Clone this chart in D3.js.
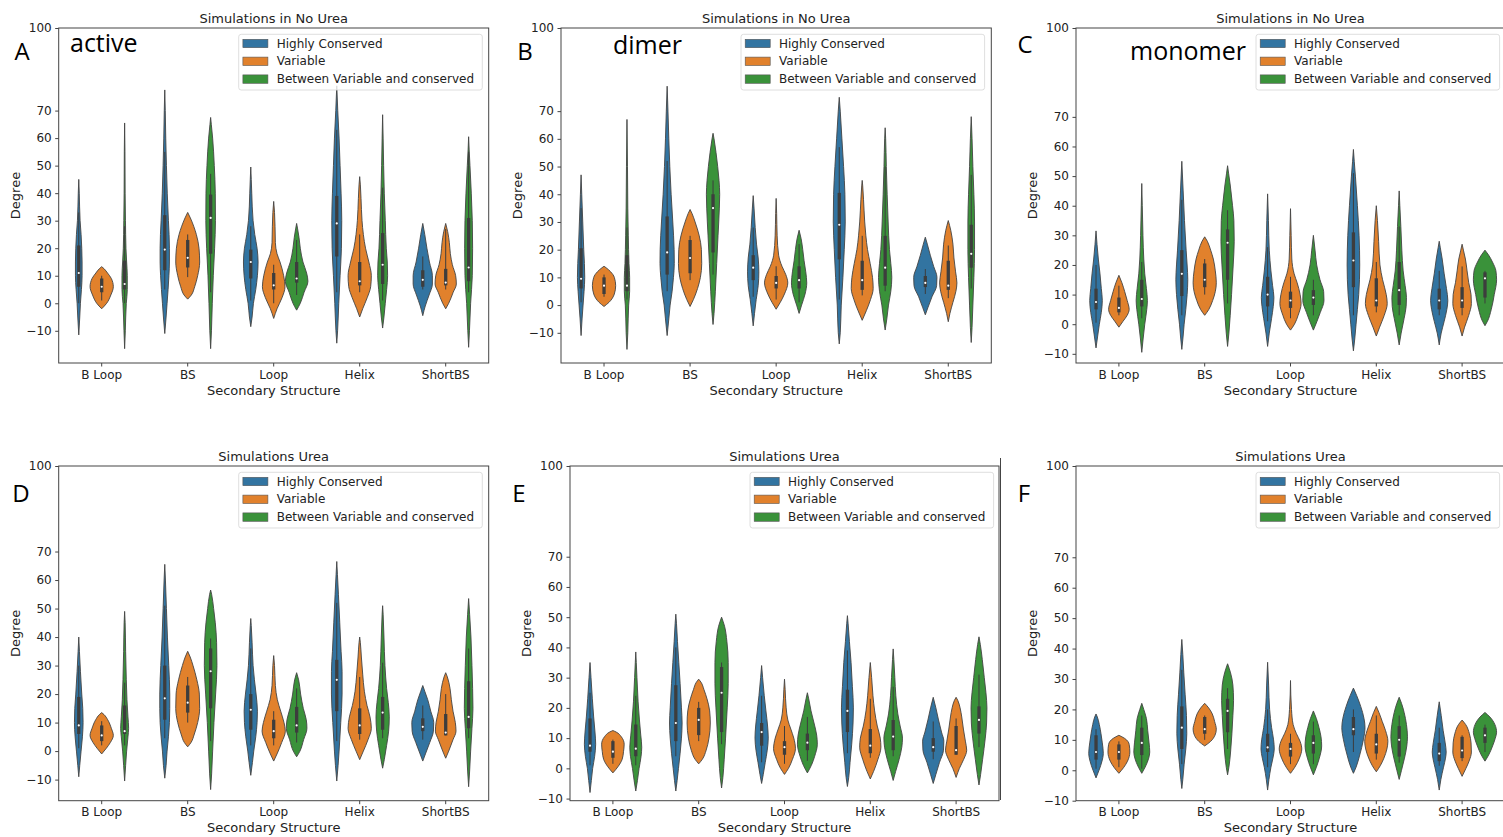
<!DOCTYPE html>
<html>
<head>
<meta charset="utf-8">
<script src="https://cdnjs.cloudflare.com/ajax/libs/d3/7.8.5/d3.min.js"></script>
<style>
  body { margin: 0; background: #fff; }
  svg { display: block; font-family: "DejaVu Sans", sans-serif; }
</style>
</head>
<body>
<svg id="chart" width="1503" height="837"></svg>
<script>
const categories = ["B Loop", "BS", "Loop", "Helix", "ShortBS"];
const hues = ["Highly Conserved", "Variable", "Between Variable and conserved"];
const colors = ["#3274a1", "#e1812c", "#3a923a"];
const yTicks = [-10, 0, 10, 20, 30, 40, 50, 60, 70, 100];

const panelLetters = ["A", "B", "C", "D", "E", "F"];
const panelTags = ["active", "dimer", "monomer", "", "", ""];
const panelTitles = ["Simulations in No Urea", "Simulations in No Urea", "Simulations in No Urea",
  "Simulations Urea", "Simulations Urea", "Simulations Urea"];
const yMins = [-21.7, -20.9, -13.1, -17.4, -10.7, -10];
const yMax = 100;

// each violin: [lo, hi, [whiskerLo, q1, median, q3, whiskerHi], [[degree, density], ...]]
// one row per category, three violins (hues) per row
const violinsA = [
  [[-11.5, 45, [0, 6, 11, 21, 33], [[-5, 6], [0, 10], [5, 16], [10, 20], [15, 20], [20, 18], [25, 14], [30, 8], [35, 5], [40, 3]]],
   [-2, 13.3, [1, 4, 6, 9, 10], [[0, 30], [3, 55], [6, 70], [9, 58], [11, 35], [12.5, 15]]],
   [-16.5, 65.5, [0, 5, 7, 15.5, 28], [[-10, 4], [0, 10], [5, 16], [10, 16], [15, 12], [20, 8], [30, 5], [40, 3], [55, 2]]]],
  [[-11, 77.5, [5, 12, 19.5, 32, 55], [[-5, 8], [0, 14], [5, 20], [10, 25], [15, 28], [20, 28], [25, 26], [30, 22], [40, 15], [50, 10], [60, 6], [70, 3]]],
   [1.5, 33, [9.5, 13, 16.5, 23, 25], [[3, 22], [6, 42], [10, 60], [15, 72], [20, 68], [25, 52], [28, 36], [31, 16]]],
   [-16.5, 67.5, [4, 18, 31, 39.5, 47], [[-10, 5], [0, 10], [10, 16], [20, 24], [30, 29], [40, 28], [50, 22], [60, 12], [65, 4]]]],
  [[-8.5, 49.5, [1, 9, 15, 19.5, 28], [[-5, 8], [0, 16], [5, 30], [10, 40], [15, 44], [20, 38], [25, 24], [30, 14], [40, 6], [45, 3]]],
   [-5.5, 37, [0, 5, 6.5, 11, 14], [[-2, 20], [2, 50], [6, 68], [10, 60], [15, 38], [18, 20], [22, 10], [28, 8], [33, 5]]],
   [-2.5, 29, [3, 7.5, 9, 15, 23], [[0, 22], [4, 45], [8, 68], [11, 60], [15, 38], [20, 22], [24, 14], [27, 6]]]],
  [[-14.5, 79, [4, 17, 29, 39, 63], [[-10, 5], [0, 12], [10, 20], [20, 28], [30, 30], [40, 26], [50, 20], [60, 14], [70, 6]]],
   [-5, 46, [4, 6.5, 8, 15, 25], [[-2, 18], [2, 45], [6, 66], [10, 70], [15, 55], [20, 35], [25, 22], [30, 14], [38, 8], [43, 4]]],
   [-9, 68.5, [1, 7, 14, 25.5, 42], [[-5, 8], [0, 16], [5, 24], [10, 30], [15, 28], [20, 22], [30, 16], [40, 10], [50, 6], [60, 3]]]],
  [[-4.5, 29, [5, 6, 8.5, 12, 17], [[-1, 15], [3, 38], [7, 58], [10, 58], [15, 40], [20, 25], [25, 12]]],
   [-2, 29, [5, 6.5, 7.5, 12.5, 27], [[0, 18], [4, 45], [7, 64], [10, 60], [14, 40], [18, 28], [22, 22], [26, 12]]],
   [-16, 60.5, [4, 8, 13, 31, 55], [[-10, 5], [0, 12], [10, 22], [20, 24], [30, 22], [40, 16], [50, 8], [56, 3]]]]
];

const violinsB = [
  [[-11, 47, [1, 6, 9.5, 20.5, 35], [[-5, 6], [0, 12], [5, 18], [10, 22], [15, 20], [20, 16], [30, 10], [40, 4]]],
   [-0.5, 14, [3, 4, 7, 10, 11], [[1, 30], [4, 62], [7, 70], [10, 62], [12, 40], [13.5, 12]]],
   [-16, 67, [2, 5, 7, 18, 28], [[-10, 5], [0, 10], [5, 16], [10, 16], [15, 12], [25, 8], [35, 5], [50, 3]]]],
  [[-11, 79, [5, 11, 19, 32, 52], [[-5, 10], [0, 18], [5, 30], [10, 38], [15, 43], [20, 42], [30, 34], [40, 24], [50, 16], [60, 10], [70, 5]]],
   [-0.5, 34.5, [9, 11.5, 17, 23.5, 25], [[2, 20], [6, 45], [10, 62], [15, 70], [20, 68], [25, 55], [30, 30], [33, 12]]],
   [-7, 62, [11, 19, 35, 40, 45], [[-3, 6], [5, 14], [15, 22], [25, 30], [35, 38], [40, 40], [45, 36], [50, 28], [55, 18], [60, 6]]]],
  [[-7.5, 39.5, [3, 9, 13.5, 18, 28], [[-3, 8], [2, 18], [7, 30], [12, 34], [17, 30], [22, 20], [28, 12], [35, 5]]],
   [-1.5, 38.5, [2, 6, 8, 10.5, 14], [[1, 25], [4, 50], [8, 70], [11, 58], [14, 35], [18, 15], [25, 6], [33, 3]]],
   [-3, 27, [1, 6, 9, 14, 22], [[0, 15], [4, 36], [8, 46], [12, 40], [16, 30], [20, 22], [24, 12]]]],
  [[-14, 75, [2, 16.5, 29, 40.5, 57], [[-10, 6], [0, 12], [10, 22], [20, 30], [30, 36], [40, 34], [50, 26], [60, 16], [70, 6]]],
   [-5.5, 45, [3.5, 5.5, 9, 16, 25], [[-2, 25], [2, 50], [6, 66], [10, 62], [15, 48], [20, 32], [25, 22], [30, 15], [38, 8], [43, 3]]],
   [-9, 64, [5, 7, 13.5, 25, 50], [[-5, 10], [0, 20], [5, 34], [10, 40], [15, 34], [20, 26], [30, 18], [40, 12], [50, 7], [60, 3]]]],
  [[-3.5, 24.5, [4, 6.5, 8, 10.5, 13], [[-1, 15], [3, 40], [7, 68], [10, 70], [14, 50], [18, 30], [22, 12]]],
   [-6, 30.5, [2.5, 5.5, 7, 16, 21.5], [[-3, 10], [1, 28], [5, 46], [8, 52], [12, 44], [17, 34], [22, 28], [27, 15]]],
   [-13.5, 68, [6, 13.5, 18.5, 29, 47], [[-8, 5], [0, 10], [10, 16], [20, 20], [30, 20], [40, 16], [50, 10], [60, 5]]]]
];

const violinsC = [
  [[-8, 31.5, [0.5, 5, 7.5, 12, 20], [[-4, 10], [0, 20], [4, 32], [8, 38], [12, 32], [17, 24], [22, 14], [27, 6]]],
   [-1, 16.5, [3, 4, 5.5, 9, 13], [[1, 25], [3, 50], [5, 62], [8, 50], [11, 35], [14, 18]]],
   [-9.5, 47.5, [2, 6, 8.5, 15, 21], [[-5, 8], [0, 18], [5, 30], [8, 34], [12, 28], [17, 18], [22, 12], [30, 7], [40, 3]]]],
  [[-8.5, 55, [3, 9.5, 17, 25, 42], [[-4, 8], [0, 14], [5, 24], [10, 32], [15, 36], [20, 32], [25, 26], [35, 16], [45, 8]]],
   [3, 29.5, [10, 12.5, 15, 20.5, 22], [[5, 25], [8, 48], [11, 64], [14, 70], [18, 64], [22, 52], [25, 36], [28, 16]]],
   [-7.5, 53.5, [7, 15, 27.5, 32, 38.5], [[-3, 8], [3, 16], [10, 24], [20, 34], [28, 40], [35, 38], [40, 30], [47, 16], [51, 6]]]],
  [[-7.5, 44, [1, 6, 10, 16, 26], [[-3, 10], [2, 24], [6, 34], [9, 38], [13, 30], [18, 20], [25, 10], [35, 5]]],
   [-2, 39, [2, 5.5, 8, 11, 16], [[0, 24], [3, 46], [7, 64], [10, 58], [14, 40], [17, 22], [22, 8], [30, 4]]],
   [-2, 30, [3, 6.5, 9, 11.5, 15], [[1, 22], [4, 42], [8, 64], [11, 62], [15, 40], [20, 20], [25, 10]]]],
  [[-9, 59, [3, 12.5, 21.5, 31, 51], [[-5, 8], [0, 16], [5, 24], [10, 32], [20, 38], [30, 34], [40, 24], [50, 12], [55, 5]]],
   [-4, 40, [4, 6, 8, 15.5, 21], [[-1, 20], [3, 48], [7, 66], [10, 60], [15, 38], [20, 22], [28, 14], [35, 7]]],
   [-7, 45, [3, 6.5, 11.5, 21, 33], [[-3, 12], [2, 30], [6, 42], [9, 44], [13, 36], [18, 24], [25, 16], [33, 10], [40, 4]]]],
  [[-7, 28, [3, 5, 8, 12, 18], [[-3, 12], [1, 30], [5, 46], [8, 52], [12, 44], [17, 30], [22, 18], [26, 6]]],
   [-4, 27, [3, 5.5, 8, 12.5, 19.5], [[-1, 15], [3, 40], [7, 56], [10, 54], [14, 40], [18, 30], [22, 20], [25, 8]]],
   [-0.5, 25, [7, 9, 15.5, 17.5, 18], [[1, 15], [5, 38], [10, 56], [15, 70], [18, 66], [21, 45], [23.5, 20]]]]
];

const violinsD = [
  [[-9, 40, [1, 6, 9, 19, 30], [[-5, 6], [0, 14], [5, 22], [10, 26], [15, 24], [20, 18], [28, 10], [35, 4]]],
   [-1, 13.5, [2, 3.5, 5.5, 9, 10.5], [[1, 28], [3, 52], [5.5, 70], [8, 58], [11, 36], [12.8, 14]]],
   [-10.5, 49, [2, 6, 7, 16, 24], [[-5, 6], [0, 12], [5, 20], [8, 24], [12, 20], [18, 14], [25, 10], [35, 6], [45, 3]]]],
  [[-9.5, 65.5, [4.5, 11, 18.5, 30, 51], [[-5, 8], [0, 14], [5, 22], [10, 28], [15, 30], [20, 30], [30, 24], [40, 16], [50, 10], [60, 4]]],
   [1.5, 35, [10, 13.5, 17, 23, 26], [[3, 20], [6, 40], [10, 60], [15, 72], [20, 70], [25, 55], [30, 32], [33, 15]]],
   [-13.5, 56.5, [3.5, 15, 28, 36, 39.5], [[-8, 6], [0, 12], [10, 20], [20, 30], [30, 38], [38, 36], [45, 28], [50, 18], [55, 6]]]],
  [[-8.5, 46.5, [2, 7.5, 14.5, 20, 36], [[-4, 10], [0, 18], [5, 30], [10, 38], [14, 40], [20, 32], [25, 22], [30, 14], [38, 8], [44, 3]]],
   [-3.5, 33.5, [2, 4.5, 7, 11, 14], [[-1, 20], [3, 48], [7, 70], [10, 62], [14, 42], [18, 22], [23, 10], [30, 5]]],
   [-2, 27.5, [3, 6.5, 9, 15.5, 22], [[0, 20], [4, 42], [8, 62], [11, 58], [15, 40], [20, 24], [25, 12]]]],
  [[-10.5, 66.5, [3.5, 14, 25, 32, 52], [[-5, 8], [0, 14], [10, 24], [20, 32], [28, 32], [35, 26], [45, 18], [55, 10], [62, 4]]],
   [-3, 40, [4, 6, 9, 15, 26], [[0, 22], [4, 50], [8, 70], [12, 62], [16, 44], [21, 28], [27, 18], [33, 10], [38, 4]]],
   [-6, 51, [4.5, 7.5, 13.5, 19, 31], [[-3, 10], [2, 24], [7, 36], [12, 40], [17, 34], [22, 24], [30, 14], [40, 8], [48, 3]]]],
  [[-3.5, 23, [4, 7, 8.5, 11.5, 16], [[-1, 16], [3, 42], [7, 64], [10, 66], [14, 48], [18, 30], [21, 12]]],
   [-2.5, 27.5, [5.5, 5.5, 6.5, 13, 20], [[0, 18], [4, 44], [7, 62], [10, 58], [14, 44], [18, 34], [22, 26], [26, 10]]],
   [-12.5, 53.5, [4.5, 8, 12, 24.5, 36], [[-7, 6], [0, 12], [8, 20], [15, 26], [22, 24], [30, 20], [40, 14], [48, 6]]]]
];

const violinsE = [
  [[-8, 35, [1, 5.5, 7.5, 16.5, 25], [[-4, 8], [0, 16], [4, 28], [8, 34], [12, 30], [17, 22], [23, 14], [30, 6]]],
   [-1.5, 12.5, [1.5, 3.5, 5.5, 9, 9.5], [[0.5, 30], [3, 56], [5.5, 64], [8, 68], [10.5, 50], [12, 20]]],
   [-7.5, 38.5, [1, 4, 6.5, 14.5, 24], [[-4, 10], [0, 20], [4, 32], [7, 36], [11, 30], [16, 22], [22, 14], [30, 7], [35, 3]]]],
  [[-7.5, 51, [4, 9, 15, 27.5, 40], [[-4, 8], [0, 16], [5, 26], [10, 34], [15, 38], [20, 34], [28, 26], [35, 18], [42, 10], [48, 4]]],
   [1.5, 29.5, [9, 11, 16, 20, 22], [[3, 22], [6, 45], [10, 62], [15, 70], [19, 66], [23, 50], [26, 32], [28.5, 14]]],
   [-6.5, 50, [8, 12, 25, 33.5, 35], [[-3, 8], [3, 16], [10, 24], [20, 34], [28, 40], [35, 40], [42, 32], [47, 18]]]],
  [[-5, 34, [2, 7.5, 12, 15, 24], [[-2, 10], [2, 22], [6, 34], [10, 40], [14, 36], [19, 26], [24, 16], [30, 6]]],
   [-2, 29.5, [1.5, 4.5, 7, 9, 14], [[0, 24], [3, 48], [6.5, 66], [10, 56], [13, 38], [16, 20], [20, 10], [26, 4]]],
   [-1.5, 25, [2.5, 6, 8.5, 11.5, 17], [[1, 24], [4, 44], [8, 60], [11, 56], [15, 40], [19, 22], [23, 8]]]],
  [[-6, 50.5, [5, 12, 19, 26, 39], [[-3, 8], [2, 16], [8, 26], [15, 34], [20, 36], [27, 30], [35, 22], [42, 12], [48, 4]]],
   [-3.5, 35, [3.5, 5, 7.5, 13, 23], [[-1, 20], [3, 46], [7, 64], [10, 60], [14, 42], [19, 26], [24, 16], [30, 8]]],
   [-4, 39.5, [4, 6, 10.5, 16, 27], [[-1, 15], [3, 36], [7, 52], [10, 56], [14, 42], [18, 28], [24, 16], [30, 10], [36, 4]]]],
  [[-5, 23.5, [3, 5.5, 7, 10, 15.5], [[-2, 16], [2, 38], [6, 62], [9, 64], [12, 50], [16, 32], [20, 16]]],
   [-3, 23.5, [4.5, 4.5, 6, 14, 16.5], [[0, 20], [3, 46], [6, 64], [9, 56], [13, 44], [17, 34], [20, 24], [22.5, 10]]],
   [-5.5, 43.5, [7, 11.5, 16, 20.5, 31], [[-2, 10], [3, 22], [10, 38], [15, 46], [20, 48], [25, 42], [30, 32], [36, 20], [41, 8]]]]
];

const violinsF = [
  [[-2.5, 18.5, [0.5, 3.5, 6, 11.5, 13.5], [[0, 18], [3, 36], [5.5, 44], [9, 38], [12, 30], [15, 20], [17.5, 8]]],
   [-1, 11.5, [1, 3.5, 6, 8.5, 9.5], [[1, 30], [3, 52], [6, 66], [8.5, 62], [10.5, 34]]],
   [-1, 22, [0.5, 5, 9, 14, 18], [[1, 20], [4, 42], [6, 48], [9, 44], [13, 36], [17, 28], [20, 12]]]],
  [[-6, 43, [2, 7, 14, 21, 33], [[-3, 6], [2, 14], [7, 24], [12, 30], [18, 28], [25, 20], [32, 12], [38, 6]]],
   [8, 22, [10, 12, 13.5, 17.5, 18], [[9.5, 36], [11.5, 62], [13.5, 70], [16, 60], [18.5, 46], [20.5, 24]]],
   [-1.5, 35, [7, 12.5, 19.5, 23.5, 27], [[1, 8], [6, 18], [12, 26], [18, 32], [23, 36], [28, 32], [32, 18]]]],
  [[-6.5, 35.5, [1, 6, 7.5, 12, 20], [[-3, 8], [1, 20], [4, 32], [7, 40], [10, 36], [14, 24], [20, 12], [28, 6]]],
   [-1, 29.5, [2, 4.5, 7, 9, 12], [[1, 26], [4, 54], [7, 68], [9.5, 58], [12, 36], [15, 16], [20, 6]]],
   [-1.5, 19.5, [2, 5.5, 9, 11.5, 16], [[1, 18], [4, 36], [8, 50], [11, 46], [14, 34], [17, 18]]]],
  [[-1, 27, [6, 11.5, 13.5, 17.5, 20], [[1, 16], [5, 38], [10, 60], [14, 70], [17, 64], [21, 44], [24.5, 20]]],
   [-0.5, 21, [3.5, 5.5, 8.5, 12, 18], [[1.5, 24], [4, 46], [7, 64], [9.5, 70], [13, 56], [16, 36], [19, 16]]],
   [-3, 24, [2.5, 4.5, 10, 14.5, 18], [[0, 14], [4, 32], [8, 46], [11, 50], [15, 44], [19, 30], [22, 14]]]],
  [[-6.5, 22.5, [1.5, 3, 5.5, 9, 14], [[-3, 10], [1, 26], [4, 38], [6, 42], [9, 36], [13, 24], [18, 12]]],
   [-2, 16.5, [3, 4, 6.5, 11, 11.5], [[0.5, 22], [3, 42], [6, 56], [9, 54], [12, 44], [15, 22]]],
   [3, 19, [6, 9, 11.5, 14, 15], [[5, 22], [8, 46], [10.5, 62], [12.5, 70], [15, 60], [17.5, 30]]]]
];

const panelViolins = [violinsA, violinsB, violinsC, violinsD, violinsE, violinsF];

// layout of the six axes frames (pixels)
const frames = [
  { x: 58.7, y: 28, w: 430, h: 335, letter: [22, 60], tag: [70, 52] },
  { x: 561, y: 28, w: 430.3, h: 335, letter: [525, 60], tag: [613, 54] },
  { x: 1076, y: 28, w: 429, h: 335, letter: [1025, 53], tag: [1130, 60] },
  { x: 58.7, y: 466, w: 430, h: 334.7, letter: [21, 502], tag: null },
  { x: 570, y: 466, w: 429, h: 334.7, letter: [519, 502], tag: null },
  { x: 1076, y: 466, w: 429, h: 334.7, letter: [1024, 502], tag: null }
];

const svg = d3.select("#chart");
const lineColor = "#444";
const textColor = "#222";

// stray edge of the middle bottom picture
svg.append("line")
  .attr("x1", 1000.5).attr("x2", 1000.5)
  .attr("y1", 458).attr("y2", 800)
  .attr("stroke", lineColor).attr("stroke-width", 1);

frames.forEach((f, pi) => {
  const g = svg.append("g").attr("transform", `translate(${f.x},${f.y})`);

  const x = d3.scaleBand().domain(categories).range([0, f.w]);
  const hx = d3.scaleBand().domain(hues)
    .range([x.bandwidth() * 0.1, x.bandwidth() * 0.9]);
  const y = d3.scaleLinear().domain([yMins[pi], yMax]).range([f.h, 0]);
  const ws = d3.scaleLinear().domain([0, 69]).range([0, hx.bandwidth()]);

  // violins
  panelViolins[pi].forEach((row, ci) => {
    row.forEach((v, hi) => {
      const [lo, top, box, pts] = v;
      const cx = x(categories[ci]) + hx(hues[hi]) + hx.bandwidth() / 2;
      const shape = [[top, 0], ...pts.slice().reverse(), [lo, 0]];
      const area = d3.area()
        .curve(d3.curveMonotoneY)
        .y(d => y(d[0]))
        .x0(d => cx - ws(d[1]) / 2)
        .x1(d => cx + ws(d[1]) / 2);
      g.append("path")
        .attr("d", area(shape))
        .attr("fill", colors[hi])
        .attr("stroke", "#444")
        .attr("stroke-width", 0.9);

      const [wlo, q1, med, q3, whi] = box;
      g.append("line")
        .attr("x1", cx).attr("x2", cx)
        .attr("y1", y(wlo)).attr("y2", y(whi))
        .attr("stroke", "#3d3d3d").attr("stroke-width", 1);
      g.append("line")
        .attr("x1", cx).attr("x2", cx)
        .attr("y1", y(q1)).attr("y2", y(q3))
        .attr("stroke", "#3d3d3d").attr("stroke-width", 3.3);
      g.append("circle")
        .attr("cx", cx).attr("cy", y(med))
        .attr("r", 1.1).attr("fill", "#fff");
    });
  });

  // frame
  g.append("rect")
    .attr("width", f.w).attr("height", f.h)
    .attr("fill", "none").attr("stroke", lineColor).attr("stroke-width", 1);

  // axes
  const yAxis = g.append("g")
    .call(d3.axisLeft(y).tickValues(yTicks).tickSize(3.5).tickPadding(3.5));
  yAxis.select(".domain").remove();
  yAxis.selectAll("line").attr("stroke", lineColor);
  yAxis.selectAll("text")
    .attr("fill", textColor)
    .style("font-size", "12px")
    .style("font-family", "DejaVu Sans")
    .text(d => d < 0 ? "\u2212" + Math.abs(d) : d);

  const xAxis = g.append("g")
    .attr("transform", `translate(0,${f.h})`)
    .call(d3.axisBottom(x).tickSize(3.5).tickPadding(3.5));
  xAxis.select(".domain").remove();
  xAxis.selectAll("line").attr("stroke", lineColor);
  xAxis.selectAll("text")
    .attr("fill", textColor)
    .style("font-size", "12px")
    .style("font-family", "DejaVu Sans");

  // labels
  g.append("text")
    .attr("x", f.w / 2).attr("y", -5.5)
    .attr("text-anchor", "middle")
    .attr("fill", textColor)
    .style("font-size", "13px")
    .text(panelTitles[pi]);

  g.append("text")
    .attr("x", f.w / 2).attr("y", f.h + 31.7)
    .attr("text-anchor", "middle")
    .attr("fill", textColor)
    .style("font-size", "13px")
    .text("Secondary Structure");

  g.append("text")
    .attr("transform", `translate(-43.5,${f.h / 2}) rotate(-90)`)
    .attr("text-anchor", "middle")
    .attr("dy", "0.35em")
    .attr("fill", textColor)
    .style("font-size", "13px")
    .text("Degree");

  // legend
  const lg = g.append("g").attr("transform", "translate(180,6.3)");
  lg.append("rect")
    .attr("width", 243.6).attr("height", 55.7)
    .attr("rx", 2.5)
    .attr("fill", "#fff").attr("fill-opacity", 0.8)
    .attr("stroke", "#d6d6d6").attr("stroke-width", 0.8);
  hues.forEach((h, i) => {
    const ry = 9 + i * 17.8;
    lg.append("rect")
      .attr("x", 4.2).attr("y", ry - 4)
      .attr("width", 25).attr("height", 8.4)
      .attr("fill", colors[i])
      .attr("stroke", "#555").attr("stroke-width", 0.6);
    lg.append("text")
      .attr("x", 38).attr("y", ry)
      .attr("dy", "0.36em")
      .attr("fill", textColor)
      .style("font-size", "12px")
      .text(h);
  });

  // panel letter and tag
  svg.append("text")
    .attr("x", f.letter[0]).attr("y", f.letter[1])
    .attr("text-anchor", "middle")
    .attr("fill", "#000")
    .style("font-family", "'Open Sans', sans-serif")
    .style("font-size", "24px")
    .text(panelLetters[pi]);

  if (f.tag) {
    svg.append("text")
      .attr("x", f.tag[0]).attr("y", f.tag[1])
      .attr("fill", "#000")
      .style("font-family", "'Open Sans', sans-serif")
      .style("font-size", "25px")
      .text(panelTags[pi]);
  }
});
</script>
</body>
</html>
